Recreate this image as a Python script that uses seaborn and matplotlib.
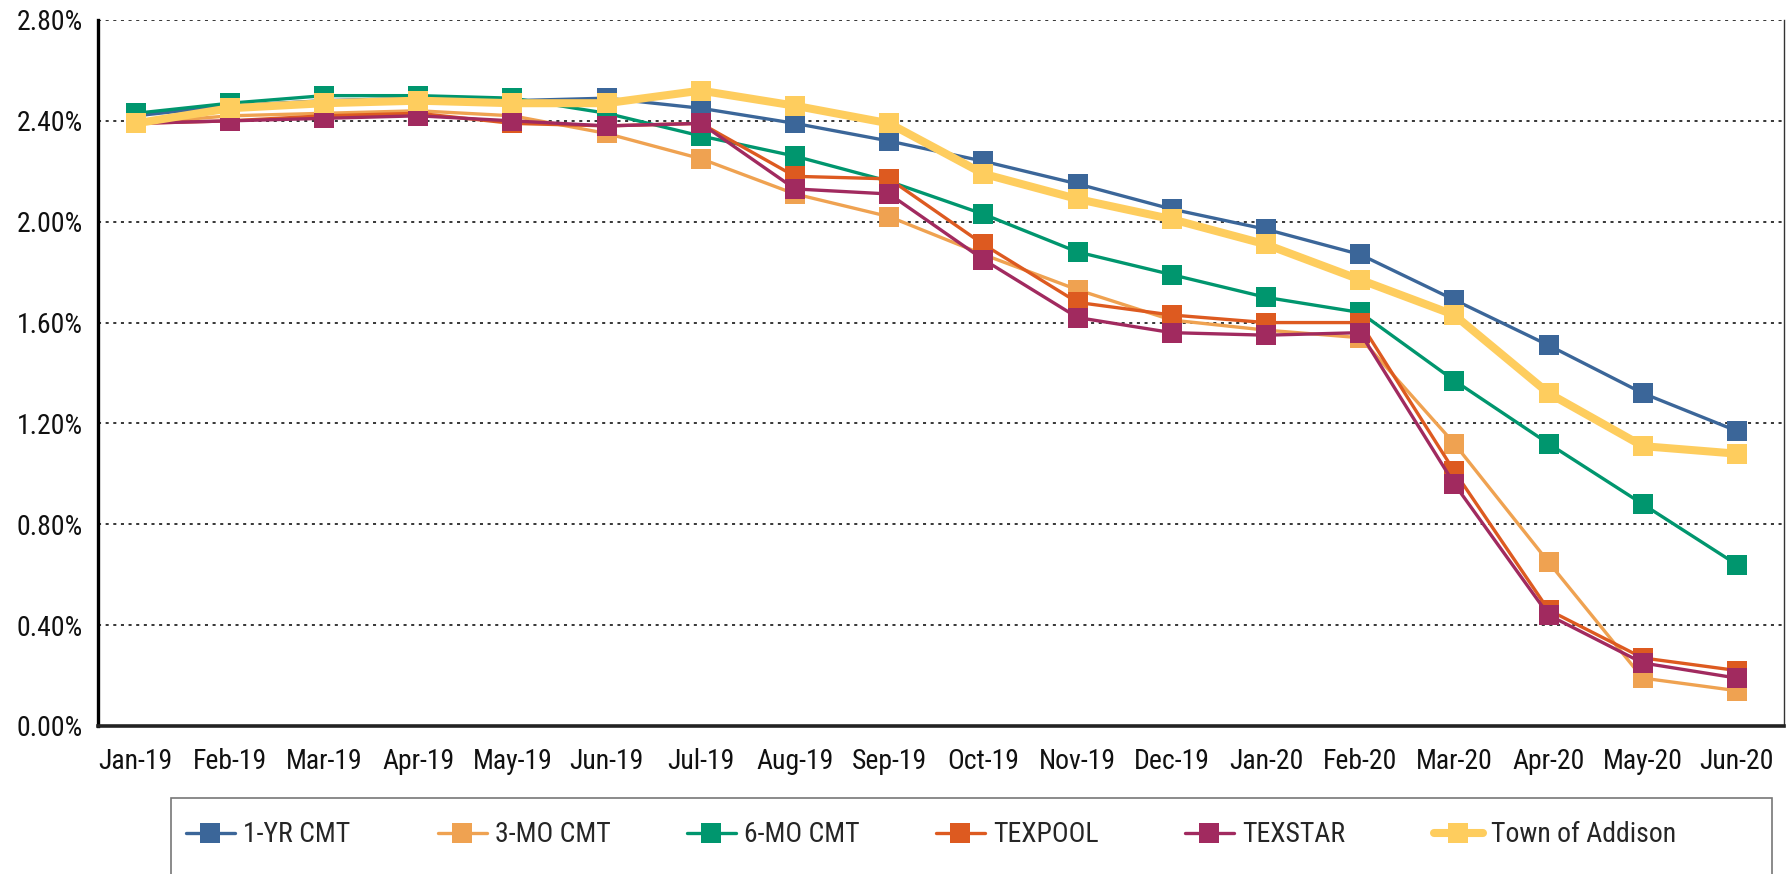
import numpy as np
import pandas as pd
import matplotlib
matplotlib.use("Agg")
import matplotlib.pyplot as plt
from matplotlib import font_manager
from matplotlib.patches import Rectangle
from matplotlib.ticker import FuncFormatter, MultipleLocator
import seaborn as sns

# data (percent)
months = ["Jan-19", "Feb-19", "Mar-19", "Apr-19", "May-19", "Jun-19", "Jul-19", "Aug-19", "Sep-19",
          "Oct-19", "Nov-19", "Dec-19", "Jan-20", "Feb-20", "Mar-20", "Apr-20", "May-20", "Jun-20"]

yr1_cmt = [2.42, 2.46, 2.48, 2.49, 2.48, 2.49, 2.45, 2.39, 2.32, 2.24, 2.15, 2.05,
           1.97, 1.87, 1.69, 1.51, 1.32, 1.17]
mo3_cmt = [2.39, 2.42, 2.43, 2.44, 2.42, 2.35, 2.25, 2.11, 2.02, 1.87, 1.73, 1.61,
           1.57, 1.54, 1.12, 0.65, 0.19, 0.14]
mo6_cmt = [2.43, 2.47, 2.50, 2.50, 2.49, 2.43, 2.34, 2.26, 2.16, 2.03, 1.88, 1.79,
           1.70, 1.64, 1.37, 1.12, 0.88, 0.64]
texpool = [2.39, 2.40, 2.42, 2.43, 2.39, 2.38, 2.39, 2.18, 2.17, 1.91, 1.68, 1.63,
           1.60, 1.60, 1.01, 0.46, 0.27, 0.22]
texstar = [2.39, 2.40, 2.41, 2.42, 2.40, 2.38, 2.39, 2.13, 2.11, 1.85, 1.62, 1.56,
           1.55, 1.56, 0.96, 0.44, 0.25, 0.19]
addison = [2.39, 2.45, 2.47, 2.48, 2.47, 2.47, 2.52, 2.46, 2.39, 2.19, 2.09, 2.01,
           1.91, 1.77, 1.63, 1.32, 1.11, 1.08]

series_names = ["1-YR CMT", "3-MO CMT", "6-MO CMT", "TEXPOOL", "TEXSTAR", "Town of Addison"]
series_values = [yr1_cmt, mo3_cmt, mo6_cmt, texpool, texstar, addison]
colors = ["#3B6699", "#EFA251", "#00966E", "#DD5A20", "#A12A5F", "#FECD5E"]

sns.set_style("white")

# the reference uses a narrow sans; take the closest one that is installed
available = {f.name for f in font_manager.fontManager.ttflist}
narrow = [f for f in ["Liberation Sans Narrow", "Arial Narrow", "Roboto Condensed",
                      "Open Sans Condensed", "DejaVu Sans Condensed"] if f in available]
if narrow:
    plt.rcParams["font.family"] = [narrow[0], "DejaVu Sans"]
else:
    plt.rcParams["font.family"] = ["Liberation Sans", "DejaVu Sans"]
    plt.rcParams["font.stretch"] = "condensed"

rows = []
for name, vals in zip(series_names, series_values):
    for i, v in enumerate(vals):
        rows.append({"idx": i, "rate": v, "series": name})
df = pd.DataFrame(rows)

W, H = 1787, 874
fig = plt.figure(figsize=(W / 100, H / 100), dpi=100)
ax = fig.add_axes([98 / W, 1 - 726 / H, (1784 - 98) / W, (726 - 20) / H])

for name, color in zip(series_names, colors):
    thick = name == "Town of Addison"
    sns.lineplot(data=df[df["series"] == name], x="idx", y="rate", ax=ax, color=color,
                 linewidth=5.8 if thick else 2.4, marker="s",
                 markersize=15 if thick else 14, markeredgewidth=0, label=name)

ax.set_xlim(-0.4, 17.5)
ax.set_ylim(0, 2.8)
ax.yaxis.set_major_locator(MultipleLocator(0.4))
ax.yaxis.set_major_formatter(FuncFormatter(lambda v, p: f"{v:.2f}%"))
ax.set_xticks(range(len(months)))
ax.set_xticklabels(months)
ax.set_xlabel("")
ax.set_ylabel("")
ax.tick_params(axis="y", length=0, pad=11, labelsize=20, labelcolor="#111111")
ax.tick_params(axis="x", length=0, pad=16, labelsize=20, labelcolor="#111111")

ax.grid(axis="y", color="black", linestyle=(0, (2, 3)), linewidth=1.1)
ax.grid(axis="x", visible=False)
ax.set_axisbelow(True)

ax.spines["top"].set_visible(False)
ax.spines["left"].set_color("black")
ax.spines["left"].set_linewidth(2.4)
ax.spines["bottom"].set_color("#222222")
ax.spines["bottom"].set_linewidth(2.6)
ax.spines["right"].set_color("#333333")
ax.spines["right"].set_linewidth(1.0)

# legend: box running off the bottom edge, entries on an even spacing
handles, labels = ax.get_legend_handles_labels()
ax.get_legend().remove()
fig.add_artist(Rectangle((171 / W, -0.05), (1772 - 171) / W, 0.05 + 1 - 798 / H,
                         transform=fig.transFigure, facecolor="white",
                         edgecolor="#777777", linewidth=1.2))
entry_x = [186, 438, 687, 936, 1185, 1434]
for h, l, x in zip(handles, labels, entry_x):
    fig.legend([h], [l], loc="center left", bbox_to_anchor=(x / W, 1 - 835 / H),
               frameon=False, fontsize=20, borderpad=0, borderaxespad=0,
               handlelength=1.75, handletextpad=0.3)

fig.savefig("out.png", dpi=100)
